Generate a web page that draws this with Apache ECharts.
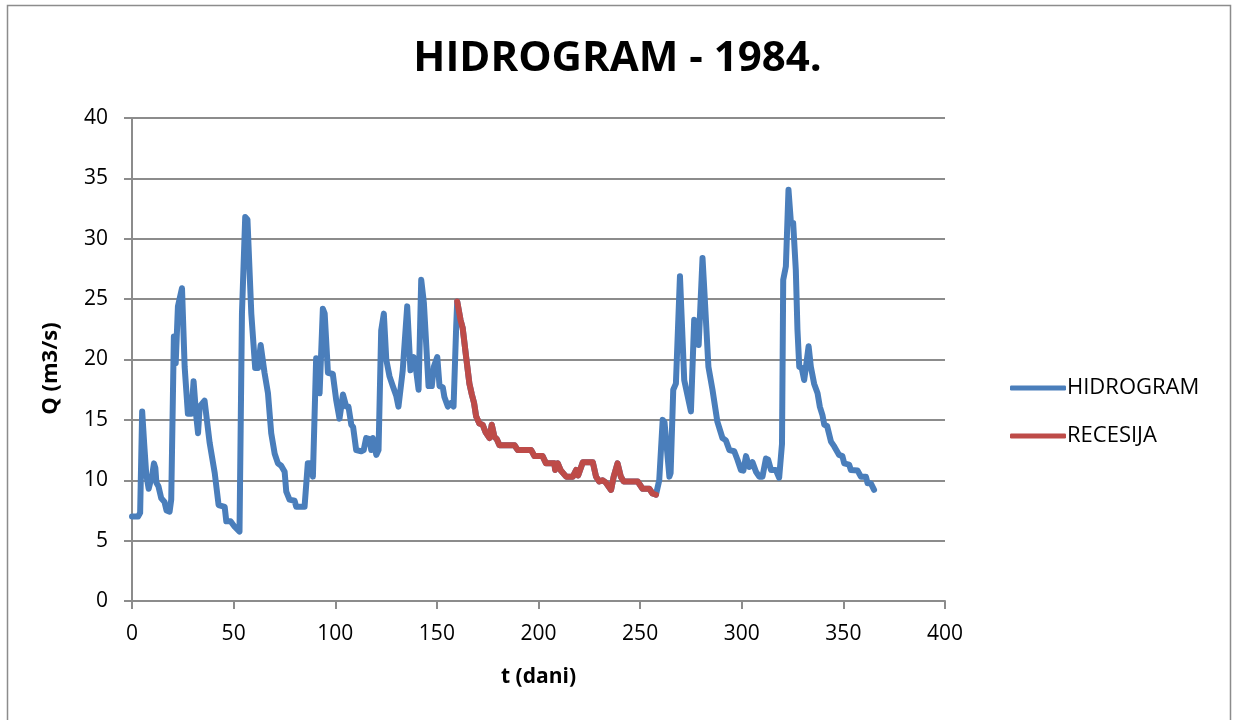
<!DOCTYPE html>
<html>
<head>
<meta charset="utf-8">
<script src="https://cdn.jsdelivr.net/npm/echarts@6/dist/echarts.min.js"></script>
<style>
  html, body { margin: 0; padding: 0; background: #fff; }
  #chart { width: 1235px; height: 720px; }
</style>
</head>
<body>
<div id="chart"></div>
<script>
// [day, Q]
const hidroStart = [
  [0, 7.0], [1, 7.0], [3, 7.0], [4, 7.3], [5, 15.7], [6, 13.0], [7, 10.5], [8.2, 9.3], [9, 9.3],
  [10, 10.5], [10.8, 11.4], [11.5, 11.0], [12, 9.8], [13, 9.5], [14.4, 8.5], [16, 8.2], [17, 7.5],
  [18.5, 7.4], [19.3, 8.4], [20.6, 21.9], [21.5, 19.7], [22.6, 24.4], [24.6, 25.9], [25.9, 19.4],
  [27.5, 15.5], [29.2, 15.5], [30.3, 18.2], [31.5, 15.5], [32.5, 13.9], [33.3, 16.1], [35.7, 16.6],
  [36.5, 16.6], [38.2, 13.1], [40.7, 10.6], [42.6, 7.95], [45.6, 7.8], [46.4, 6.6], [48.5, 6.6],
  [50.5, 6.15], [52.9, 5.75], [54.1, 23.8], [55.7, 31.8], [56.8, 31.6], [58.7, 23.8], [60.6, 19.3],
  [62, 19.3], [63.3, 21.2], [63.8, 21.1], [65.2, 18.9], [66.9, 17.2], [68.5, 13.9], [70.2, 12.2],
  [71.8, 11.4], [73.4, 11.2], [75.1, 10.7], [75.9, 9.05], [77.5, 8.4], [80, 8.3], [80.8, 7.8],
  [84.9, 7.8], [86.5, 11.4], [88.2, 11.4], [89, 10.3], [90.6, 20.1], [91.4, 20.1], [92.3, 17.2],
  [93.9, 24.2], [94.8, 23.8], [96.4, 18.9], [98.8, 18.8], [100.5, 16.6], [102.1, 15.1], [103.8, 17.1],
  [105.4, 16.1], [106.5, 16.1], [107.9, 14.6], [108.8, 14.4], [110.3, 12.5], [112.8, 12.4], [114, 12.5],
  [115.2, 13.5], [116.9, 13.4], [117.7, 12.5], [118.5, 13.5], [120.2, 12.1], [121.3, 12.5], [122.6, 22.4],
  [123.9, 23.8], [125.1, 20], [126.7, 18.6], [128.3, 17.8], [130, 17], [131.1, 16.1], [133.2, 19.1],
  [135.4, 24.4], [137, 19.1], [138.6, 20.2], [139.2, 19.9], [141, 17.5], [142.3, 26.6], [143.6, 24.7],
  [145.9, 17.8], [147.5, 17.8], [148.5, 19.4], [150.2, 20.2], [151.3, 17.8], [152.9, 17.7], [153.7, 16.9],
  [155.4, 16.1], [157, 16.4], [158.2, 16.1], [159.5, 22.7], [160, 24.8]
];

const recesija = [
  [160, 24.8], [161.6, 23.3], [162.7, 22.6], [164.4, 20.2], [166, 18], [167.2, 17.1], [168.3, 16.4],
  [169.3, 15.3], [170.9, 14.7], [172.5, 14.6], [173.9, 14], [175.9, 13.5], [177, 14.6], [178.3, 13.6],
  [179.5, 13.4], [180.8, 12.9], [188.2, 12.9], [189.8, 12.5], [196.4, 12.5], [198, 12], [202, 12],
  [203.7, 11.4], [207.8, 11.4], [208.2, 10.85], [209.5, 11.4], [211, 10.8], [213.6, 10.3], [216.9, 10.3],
  [218.5, 10.85], [219.5, 10.4], [221.8, 11.5], [226.7, 11.5], [228.3, 10.3], [229.9, 9.9], [231.5, 10.0],
  [233.2, 9.8], [235.7, 9.2], [237, 10.3], [238.9, 11.4], [240.5, 10.3], [241.9, 9.9], [248.8, 9.9],
  [251.2, 9.3], [254.5, 9.3], [256.1, 8.9], [257.8, 8.8]
];

const hidroEnd = [
  [257.8, 8.8], [259.4, 10], [261.1, 15], [262, 14.8], [264.4, 10.3], [265, 10.6], [266.3, 17.5],
  [267.6, 18], [269.6, 26.9], [271.7, 18.3], [275, 15.7], [276.6, 23.3], [277.5, 23.3], [278.8, 21.2],
  [280.7, 28.4], [281.5, 26], [283.6, 19.4], [285.6, 17.5], [288, 14.85], [290.5, 13.5], [292.2, 13.3],
  [293.9, 12.5], [296.3, 12.4], [297.9, 11.7], [299.6, 10.85], [300.8, 10.8], [302.1, 12], [303.7, 11.1],
  [305.3, 11.5], [307, 10.7], [308.6, 10.3], [310.2, 10.3], [311.9, 11.8], [313, 11.7], [314.4, 10.85],
  [316.8, 10.85], [318.4, 10.2], [319.8, 13], [320.4, 26.6], [321.7, 27.7], [323, 34.05], [324.2, 31.3],
  [325.3, 31.3], [326.6, 27.4], [327.4, 22.5], [328.3, 19.4], [329.5, 19.3], [330.7, 18.3], [331.6, 19.4],
  [332.9, 21.1], [334, 19.4], [335.6, 18], [337.3, 17.2], [338.4, 16.1], [339.7, 15.4], [340.6, 14.6],
  [342, 14.5], [343.9, 13.2], [345.5, 12.8], [347.9, 12.1], [349.5, 12], [350.4, 11.4], [352.8, 11.3],
  [353.7, 10.85], [357, 10.8], [358.6, 10.3], [361.1, 10.3], [361.9, 9.75], [363.5, 9.75], [365.1, 9.2]
];

const seriesNames = ['HIDROGRAM', 'RECESIJA'];
const FONT = '"Open Sans", "Noto Sans", sans-serif';
const gridColor = '#8c8c8c';

const chart = echarts.init(document.getElementById('chart'), null, { renderer: 'canvas' });

chart.setOption({
  animation: false,
  backgroundColor: '#fff',
  title: {
    text: 'HIDROGRAM - 1984.',
    left: 'center',
    top: 33,
    textStyle: { fontFamily: FONT, fontWeight: 'bold', fontSize: 42, color: '#000' }
  },
  graphic: [{
    type: 'rect',
    shape: { x: 7.5, y: 5.5, width: 1223, height: 720 },
    style: { fill: null, stroke: '#8c8c8c', lineWidth: 1.5 },
    silent: true
  }],
  legend: {
    orient: 'vertical',
    left: 1005,
    top: 371,
    icon: 'roundRect',
    itemWidth: 56,
    itemHeight: 5,
    itemGap: 24,
    data: seriesNames,
    textStyle: { fontFamily: FONT, fontSize: 22, lineHeight: 24, color: '#000', padding: [0, 0, 0, -4] }
  },
  grid: { left: 132, right: 290, top: 118, bottom: 119 },
  xAxis: {
    type: 'value',
    min: 0, max: 400, interval: 50,
    name: 't (dani)',
    nameLocation: 'middle',
    nameGap: 66,
    nameTextStyle: { fontFamily: FONT, fontWeight: 'bold', fontSize: 21, color: '#000' },
    axisLine: { show: true, lineStyle: { color: gridColor, width: 2 } },
    axisTick: { show: true, length: 8, inside: false, lineStyle: { color: gridColor, width: 2 } },
    axisLabel: { fontFamily: FONT, fontSize: 21, color: '#000', margin: 23 },
    splitLine: { show: false }
  },
  yAxis: {
    type: 'value',
    min: 0, max: 40, interval: 5,
    name: 'Q (m3/s)',
    nameLocation: 'middle',
    nameGap: 70,
    nameTextStyle: { fontFamily: FONT, fontWeight: 'bold', fontSize: 22, color: '#000', padding: [0, 18, 0, 0] },
    axisLine: { show: true, lineStyle: { color: gridColor, width: 2 } },
    axisTick: { show: true, length: 8, inside: false, lineStyle: { color: gridColor, width: 2 } },
    axisLabel: { fontFamily: FONT, fontSize: 21, color: '#000', margin: 24 },
    splitLine: { show: true, lineStyle: { color: gridColor, width: 2 } }
  },
  series: [
    {
      name: seriesNames[0],
      type: 'line',
      data: hidroStart.concat(recesija, hidroEnd),
      showSymbol: false,
      symbol: 'none',
      lineStyle: { color: '#4a7ebb', width: 6, cap: 'round', join: 'round' },
      itemStyle: { color: '#4a7ebb' },
      z: 2
    },
    {
      name: seriesNames[1],
      type: 'line',
      data: recesija,
      showSymbol: false,
      symbol: 'none',
      lineStyle: { color: '#be4b48', width: 6, cap: 'round', join: 'round' },
      itemStyle: { color: '#be4b48' },
      z: 3
    }
  ]
});
</script>
</body>
</html>
